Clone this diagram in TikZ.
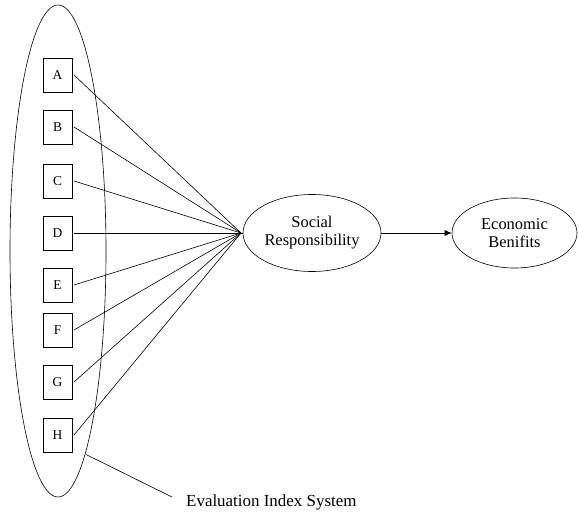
\documentclass[tikz,border=0pt]{standalone}
\usepackage{fontspec}
\setmainfont{Liberation Serif}
\usetikzlibrary{shapes.geometric,arrows.meta}
\begin{document}
\begin{tikzpicture}[x=1bp,y=-1bp,
  box/.style={draw,line width=0.6bp,minimum width=29bp,minimum height=34bp,inner sep=0pt,font=\fontsize{13.5}{14}\selectfont,outer sep=2bp},
  oval/.style={draw,ellipse,line width=0.6bp,inner sep=0pt,font=\fontsize{16.5}{18}\selectfont,align=center},
  link/.style={line width=0.6bp}]
\useasboundingbox (0,0) rectangle (579,519);
\node[draw,ellipse,line width=0.6bp,minimum width=96bp,minimum height=492bp,inner sep=0pt] (sys) at (58,251) {};
\foreach \n/\y in {A/75,B/127,C/181,D/233,E/285,F/330,G/382,H/435}
  \node[box] (\n) at (57.5,\y) {\n};
\coordinate (hub) at (241,233);
\node[oval,minimum width=138bp,minimum height=77bp] (soc) at (312,233) {Social\\Responsibility};
\node[oval,minimum width=125bp,minimum height=70bp] (eco) at (514.5,233) {Economic\\Benifits};
\foreach \n in {A,B,C,D,E,F,G,H}
  \draw[link] (\n.east) -- (hub);
\draw[link] (hub) -- (soc.west);
\draw[link,-{Latex[length=7bp,width=6bp]}] (soc) -- (eco);
\node[anchor=west,font=\fontsize{17}{19}\selectfont,inner sep=0pt] (lab) at (186,502) {Evaluation Index System};
\coordinate (lp) at (86,454.5);
\draw[link] (lp) -- (172,497);
\end{tikzpicture}
\end{document}
